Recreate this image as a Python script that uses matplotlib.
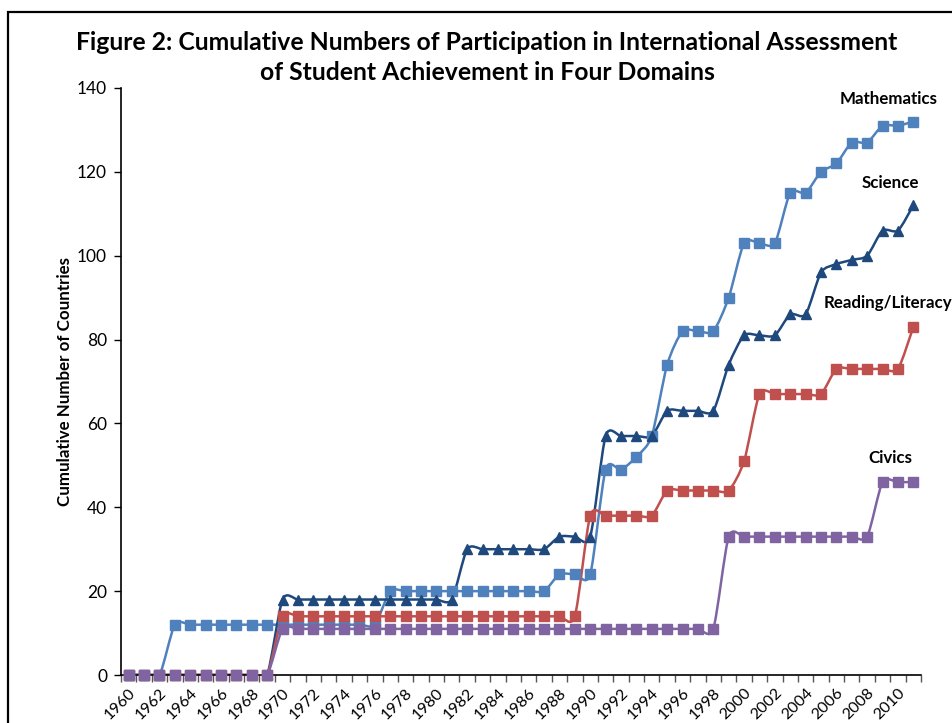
import matplotlib
matplotlib.use("Agg")
import matplotlib.pyplot as plt
from matplotlib.path import Path
from matplotlib.patches import PathPatch, Rectangle
import numpy as np

years = list(range(1960, 2012))
mathematics = [0, 0, 0, 12, 12, 12, 12, 12, 12, 12,
               12, 12, 12, 12, 12, 12, 12, 20, 20, 20,
               20, 20, 20, 20, 20, 20, 20, 20, 24, 24,
               24, 49, 49, 52, 57, 74, 82, 82, 82, 90,
               103, 103, 103, 115, 115, 120, 122, 127, 127, 131,
               131, 132]
science = [0, 0, 0, 0, 0, 0, 0, 0, 0, 0,
           18, 18, 18, 18, 18, 18, 18, 18, 18, 18,
           18, 18, 30, 30, 30, 30, 30, 30, 33, 33,
           33, 57, 57, 57, 57, 63, 63, 63, 63, 74,
           81, 81, 81, 86, 86, 96, 98, 99, 100, 106,
           106, 112]
reading = [0, 0, 0, 0, 0, 0, 0, 0, 0, 0,
           14, 14, 14, 14, 14, 14, 14, 14, 14, 14,
           14, 14, 14, 14, 14, 14, 14, 14, 14, 14,
           38, 38, 38, 38, 38, 44, 44, 44, 44, 44,
           51, 67, 67, 67, 67, 67, 73, 73, 73, 73,
           73, 83]
civics = [0, 0, 0, 0, 0, 0, 0, 0, 0, 0,
          11, 11, 11, 11, 11, 11, 11, 11, 11, 11,
          11, 11, 11, 11, 11, 11, 11, 11, 11, 11,
          11, 11, 11, 11, 11, 11, 11, 11, 11, 33,
          33, 33, 33, 33, 33, 33, 33, 33, 33, 46,
          46, 46]
series_names = ["Mathematics", "Science", "Reading/Literacy", "Civics"]
y_ticks = [0, 20, 40, 60, 80, 100, 120, 140]

FONT = ["Lato", "DejaVu Sans"]
plt.rcParams['font.family'] = FONT

fig = plt.figure(figsize=(9.52, 7.23), dpi=100)
ax = fig.add_axes([121/952, 1 - 675/723, 800/952, 587/723])

# outer frame
fig.patches.append(Rectangle((8/952, -0.1), 1.2, 1 - 12/723 + 0.1,
                             transform=fig.transFigure, fill=False,
                             edgecolor="black", linewidth=1.6))

x = np.arange(len(years))


def smooth_path(xs, ys, k=1/8):
    pts = np.column_stack([xs, ys]).astype(float)
    n = len(pts)
    verts = [pts[0]]
    codes = [Path.MOVETO]
    for i in range(n - 1):
        p0 = pts[i - 1] if i > 0 else pts[i]
        p1 = pts[i]
        p2 = pts[i + 1]
        p3 = pts[i + 2] if i + 2 < n else pts[i + 1]
        c1 = p1 + (p2 - p0) * k
        c2 = p2 - (p3 - p1) * k
        verts += [c1, c2, p2]
        codes += [Path.CURVE4] * 3
    return Path(verts, codes)


styles = [
    (mathematics, "#4F81BD", "s", 6.8),
    (science, "#1F497D", "^", 7.4),
    (reading, "#C0504D", "s", 6.8),
    (civics, "#8064A2", "s", 6.8),
]
for vals, col, mk, ms in styles:
    patch = PathPatch(smooth_path(x, vals), facecolor="none", edgecolor=col,
                      linewidth=1.8, zorder=2)
    ax.add_patch(patch)
    ax.plot(x, vals, linestyle="none", marker=mk, markersize=ms, color=col,
            markeredgecolor=col, zorder=3, clip_on=False)

ax.set_xlim(-0.5, len(years) - 0.5)
ax.set_ylim(0, 140)
ax.set_yticks(y_ticks)
ax.set_yticklabels([str(v) for v in y_ticks], fontsize=12.5)
ax.tick_params(axis="y", direction="out", length=5, width=1, pad=5)

# x ticks: marks at category boundaries, labels at even years
ax.set_xticks(np.arange(len(years) + 1) - 0.5)
ax.set_xticklabels([])
ax.tick_params(axis="x", which="major", direction="out", length=5, width=1,
               color="#555555")
even_idx = [i for i, yr in enumerate(years) if yr % 2 == 0]
ax.set_xticks(even_idx, minor=True)
ax.set_xticklabels([str(years[i]) for i in even_idx], minor=True,
                   rotation=45, ha="right", va="top", rotation_mode="anchor",
                   fontsize=11.5)
ax.tick_params(axis="x", which="minor", length=0, pad=8)

for s in ["top", "right"]:
    ax.spines[s].set_visible(False)
ax.spines["left"].set_linewidth(1.2)
ax.spines["bottom"].set_linewidth(1.2)

ax.set_ylabel("Cumulative Number of Countries", fontsize=12.2,
              fontweight="bold", labelpad=3)

fig.text(487/952, 1 - 42/723,
         "Figure 2: Cumulative Numbers of Participation in International Assessment",
         ha="center", va="center", fontsize=17.8, fontweight="bold")
fig.text(487/952, 1 - 72/723, "of Student Achievement in Four Domains",
         ha="center", va="center", fontsize=17.8, fontweight="bold")

ax.text(49.4, 137.4, series_names[0], ha="center", va="center",
        fontsize=12.2, fontweight="bold", clip_on=False)
ax.text(49.5, 117.3, series_names[1], ha="center", va="center",
        fontsize=12.2, fontweight="bold", clip_on=False)
ax.text(45.2, 88.7, series_names[2], ha="left", va="center",
        fontsize=12.2, fontweight="bold", clip_on=False)
ax.text(49.5, 51.8, series_names[3], ha="center", va="center",
        fontsize=12.2, fontweight="bold", clip_on=False)

fig.savefig("out.png", dpi=100)
